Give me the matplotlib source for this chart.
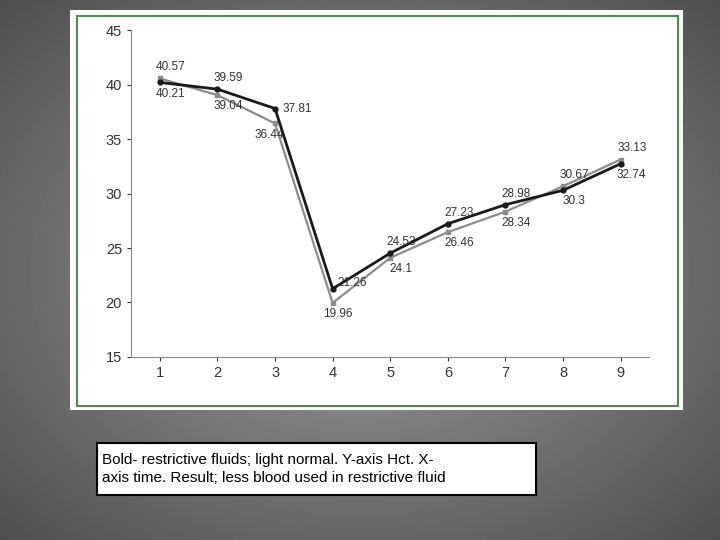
import numpy as np
import matplotlib.pyplot as plt
from matplotlib.patches import Rectangle

plt.rcParams["font.family"] = ["Liberation Sans", "DejaVu Sans"]

time = [1, 2, 3, 4, 5, 6, 7, 8, 9]
restrictive = [40.21, 39.59, 37.81, 21.26, 24.53, 27.23, 28.98, 30.3, 32.74]
normal = [40.57, 39.04, 36.44, 19.96, 24.1, 26.46, 28.34, 30.67, 33.13]
yticks = [15, 20, 25, 30, 35, 40, 45]

fig = plt.figure(figsize=(7.2, 5.4), dpi=100)

# radial gray background
bg = fig.add_axes([0, 0, 1, 1])
yy, xx = np.mgrid[-1:1:270j, -1:1:360j]
r = np.sqrt(xx**2 + yy**2)
bg.imshow(0.62 - 0.22 * r, cmap="gray", vmin=0, vmax=1, aspect="auto", extent=[0, 1, 0, 1])
bg.set_xlim(0, 1); bg.set_ylim(0, 1); bg.axis("off")

# white chart panel with green frame
bg.add_patch(Rectangle((70/720, 1-410/540), 613/720, 400/540, facecolor="white", edgecolor="none", zorder=2))
bg.add_patch(Rectangle((77/720, 1-406/540), 601/720, 390/540, facecolor="none", edgecolor="#4f8a4f", lw=1.5, zorder=3))

# caption box
bg.add_patch(Rectangle((97/720, 1-495/540), 439/720, 52/540, facecolor="white", edgecolor="black", lw=1.5, zorder=3))
bg.text(102/720, 1-469/540, "Bold- restrictive fluids; light normal. Y-axis Hct. X-\naxis time. Result; less blood used in restrictive fluid",
        fontsize=11, va="center", ha="left", zorder=4, linespacing=1.35)

ax = fig.add_axes([0.182, 0.339, 0.72, 0.605])
ax.set_facecolor("none")
ax.plot(time, normal, color="#8c8c8c", lw=1.6, marker="s", ms=3.5)
ax.plot(time, restrictive, color="#1a1a1a", lw=2.0, marker="o", ms=3.5)
ax.set_xlim(0.5, 9.5)
ax.set_ylim(15, 45)
ax.set_yticks(yticks)
ax.set_xticks(time)
ax.tick_params(labelsize=10.5, length=3, colors="#333333")
for s in ["top", "right"]:
    ax.spines[s].set_visible(False)
for s in ["left", "bottom"]:
    ax.spines[s].set_color("#888888")

offs_r = [(0, -8), (0, 8), (8, 0), (6, 4), (0, 8), (0, 8), (0, 8), (0, -8), (0, -8)]
offs_n = [(0, 8), (0, -8), (-12, -8), (-4, -8), (0, -8), (0, -8), (0, -8), (0, 8), (0, 8)]
for x, v, o in zip(time, restrictive, offs_r):
    ax.annotate(f"{v:g}", (x, v), xytext=(o[0] + 8, o[1]), textcoords="offset points",
                ha="center", va="center", fontsize=8.5, color="#333333")
for x, v, o in zip(time, normal, offs_n):
    ax.annotate(f"{v:g}", (x, v), xytext=(o[0] + 8, o[1]), textcoords="offset points",
                ha="center", va="center", fontsize=8.5, color="#333333")

fig.savefig("out.png", dpi=100)
